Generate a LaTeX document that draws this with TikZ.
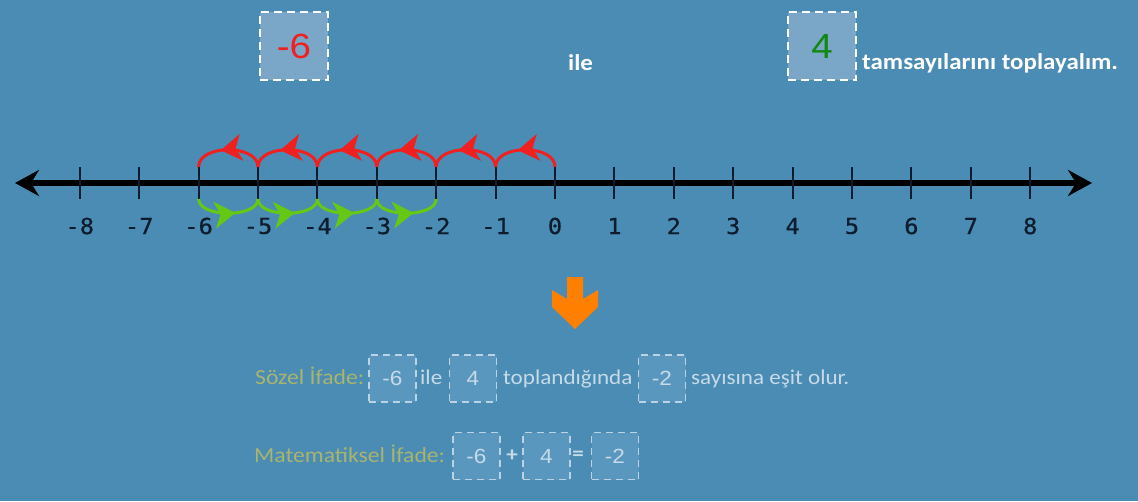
\documentclass[tikz,border=0pt]{standalone}
\usepackage{fontspec}
\setmainfont{Carlito}[FakeStretch=1.1]
\newfontfamily\arialf{Liberation Sans}[FakeStretch=1.1]
\newfontfamily\monof{DejaVu Sans Mono}[FakeStretch=1.08,FakeBold=0.6]
\usetikzlibrary{arrows.meta,decorations.markings}
\definecolor{bgc}{HTML}{4A8CB4}
\definecolor{topfill}{HTML}{7AA7C8}
\definecolor{redc}{HTML}{F02020}
\definecolor{greenc}{HTML}{66C814}
\definecolor{darkg}{HTML}{118811}
\definecolor{navy}{HTML}{0E1C2E}
\definecolor{orangec}{HTML}{FF7F00}
\definecolor{fadetxt}{HTML}{C6DAE8}
\definecolor{fadebox}{HTML}{5A97BF}
\definecolor{fadeline}{HTML}{BCD3E4}
\definecolor{olive}{HTML}{A9B46C}
\tikzset{
  tickmark/.style={draw=navy,line width=2pt},
  axisline/.style={draw=black,line width=6pt,{Stealth[length=24pt,width=26pt,inset=8pt]}-{Stealth[length=24pt,width=26pt,inset=8pt]}},
  numlbl/.style={text=navy,font=\monof\fontsize{22}{22}\selectfont,inner sep=0pt},
  redarc/.style={draw=redc,line width=3pt,postaction={decorate},
    decoration={markings,mark=at position 0.6 with {\arrow[redc,line width=1pt]{Stealth[length=21pt,width=27pt,inset=6pt]}}}},
  greenarc/.style={draw=greenc,line width=3pt,postaction={decorate},
    decoration={markings,mark=at position 0.6 with {\arrow[greenc,line width=1pt]{Stealth[length=21pt,width=27pt,inset=6pt]}}}},
  topbox/.style={minimum width=68pt,minimum height=68pt,inner sep=0pt,fill=topfill,draw=white,line width=2pt,dash pattern=on 8pt off 5pt,font=\arialf\fontsize{35}{35}\selectfont},
  toptxt/.style={text=white,font=\bfseries\fontsize{22.7}{24}\selectfont,anchor=base west,inner sep=0pt},
  smallbox/.style={minimum width=47pt,minimum height=47pt,inner sep=0pt,fill=fadebox,draw=fadeline,line width=1.8pt,dash pattern=on 7pt off 5pt,text=fadetxt,font=\arialf\fontsize{20.5}{20}\selectfont},
  ftxt/.style={text=fadetxt,font=\fontsize{21}{22}\selectfont,anchor=base west,inner sep=0pt},
  olivetxt/.style={text=olive,font=\fontsize{21.5}{22}\selectfont,anchor=base west,inner sep=0pt},
  optxt/.style={text=fadetxt,font=\bfseries\fontsize{21}{22}\selectfont,inner sep=0pt}
}
\begin{document}
\begin{tikzpicture}[x=1pt,y=-1pt]
\fill[bgc] (0,0) rectangle (1138,501);
\useasboundingbox (0,0) rectangle (1138,501);

% top line
\node[topbox,text=redc] (a) at (294,46) {-6};
\node[toptxt] (ile) at (568,70) {ile};
\node[topbox,text=darkg] (b) at (822,46) {4};
\node[toptxt] (tam) at (862,69) {tamsayılarını toplayalım.};

% number line
\coordinate (L) at (15,183);
\coordinate (R) at (1092,183);
\draw[axisline] (L) -- (R);
\foreach \i in {0,...,16}{
  \pgfmathsetmacro\xx{555+59.4*(\i-8)}
  \pgfmathtruncatemacro\n{\i-8}
  \coordinate (u\i) at (\xx,167);
  \coordinate (d\i) at (\xx,199);
  \draw[tickmark] (u\i) -- (d\i);
  \node[numlbl] (n\i) at (\xx,226) {\n};
}
\foreach \i in {8,...,3}{
  \pgfmathtruncatemacro\j{\i-1}
  \draw[redarc] (u\i) .. controls +(0,-23) and +(0,-23) .. (u\j);
}
\foreach \i in {2,...,5}{
  \pgfmathtruncatemacro\j{\i+1}
  \draw[greenarc] (d\i) .. controls +(0,19) and +(0,19) .. (d\j);
}

% orange arrow
\fill[orangec] (567,277) -- (583,277) -- (583,299) -- (598,290) -- (598,307) -- (575,329) -- (552,307) -- (552,290) -- (567,299) -- cycle;

% Sozel ifade
\node[olivetxt] (s0) at (255,384) {Sözel İfade:};
\node[smallbox] (s1) at (392.5,378.5) {-6};
\node[ftxt] (s2) at (420,384) {ile};
\node[smallbox] (s3) at (473,378.5) {4};
\node[ftxt] (s4) at (503,384) {toplandığında};
\node[smallbox] (s5) at (662,378.5) {-2};
\node[ftxt] (s6) at (691,384) {sayısına eşit olur.};

% Matematiksel ifade
\node[olivetxt] (m0) at (254,462) {Matematiksel İfade:};
\node[smallbox] (m1) at (476.5,456) {-6};
\node[optxt] (m2) at (512,456) {+};
\node[smallbox] (m3) at (546.5,456) {4};
\node[optxt] (m4) at (578,456) {=};
\node[smallbox] (m5) at (615,456) {-2};
\end{tikzpicture}
\end{document}
